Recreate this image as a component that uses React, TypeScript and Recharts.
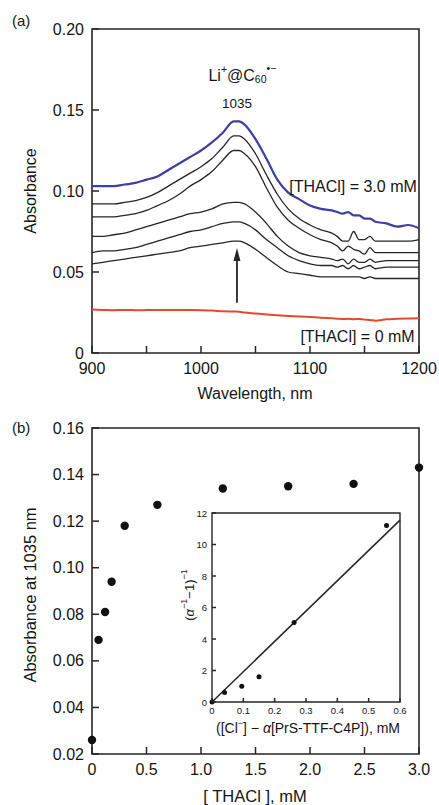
import React from 'react';
import {
  LineChart, Line, XAxis, YAxis, ScatterChart, Scatter,
  ReferenceArea, ReferenceDot, ReferenceLine,
} from 'recharts';

const FONT = '"Liberation Sans", Arial, Helvetica, sans-serif';
const INK = '#262626';
const TXT = '#151515';

// ---- (a) absorption spectra ----
const wavelengths = [
  900, 910, 920, 930, 940, 950, 960, 970, 980, 990,
  1000, 1010, 1020, 1030, 1035, 1040, 1050, 1060, 1070, 1080,
  1090, 1100, 1110, 1120, 1125, 1130, 1135, 1140, 1145, 1150,
  1155, 1160, 1170, 1180, 1190, 1200,
];
// [THACl] = 3.0 mM (blue)
const spec30 = [
  0.103, 0.103, 0.103, 0.104, 0.105, 0.107, 0.109, 0.113, 0.117, 0.121,
  0.125, 0.130, 0.136, 0.143, 0.143, 0.141, 0.132, 0.120, 0.107, 0.099,
  0.095, 0.091, 0.089, 0.088, 0.087, 0.086, 0.087, 0.085, 0.085, 0.083,
  0.083, 0.081, 0.080, 0.078, 0.079, 0.077,
];
const specB1 = [
  0.092, 0.092, 0.092, 0.093, 0.094, 0.096, 0.099, 0.103, 0.107, 0.111,
  0.115, 0.120, 0.127, 0.134, 0.134, 0.132, 0.123, 0.110, 0.098, 0.089,
  0.083, 0.079, 0.076, 0.074, 0.072, 0.069, 0.069, 0.075, 0.070, 0.070,
  0.072, 0.069, 0.069, 0.069, 0.069, 0.070,
];
const specB2 = [
  0.084, 0.084, 0.084, 0.085, 0.086, 0.088, 0.091, 0.094, 0.098, 0.103,
  0.107, 0.112, 0.119, 0.125, 0.125, 0.123, 0.115, 0.102, 0.090, 0.082,
  0.077, 0.073, 0.070, 0.068, 0.066, 0.063, 0.066, 0.064, 0.063, 0.061,
  0.065, 0.062, 0.062, 0.062, 0.062, 0.062,
];
const specB3 = [
  0.072, 0.072, 0.073, 0.074, 0.076, 0.078, 0.080, 0.082, 0.084, 0.086,
  0.087, 0.089, 0.092, 0.093, 0.093, 0.092, 0.087, 0.080, 0.072, 0.066,
  0.062, 0.060, 0.059, 0.058, 0.057, 0.058, 0.055, 0.058, 0.056, 0.056,
  0.058, 0.056, 0.057, 0.057, 0.057, 0.057,
];
const specB4 = [
  0.062, 0.063, 0.063, 0.064, 0.065, 0.067, 0.069, 0.071, 0.073, 0.075,
  0.076, 0.078, 0.080, 0.081, 0.081, 0.080, 0.076, 0.070, 0.065, 0.060,
  0.057, 0.055, 0.054, 0.054, 0.053, 0.054, 0.052, 0.054, 0.052, 0.053,
  0.054, 0.052, 0.053, 0.053, 0.053, 0.053,
];
const specB5 = [
  0.055, 0.056, 0.057, 0.058, 0.059, 0.060, 0.061, 0.062, 0.063, 0.065,
  0.066, 0.067, 0.068, 0.069, 0.069, 0.068, 0.064, 0.059, 0.054, 0.050,
  0.049, 0.048, 0.047, 0.047, 0.047, 0.047, 0.047, 0.047, 0.047, 0.046,
  0.047, 0.046, 0.046, 0.046, 0.046, 0.046,
];
// [THACl] = 0 mM (red)
const spec0 = [
  0.0268, 0.0266, 0.0264, 0.0266, 0.0264, 0.0265, 0.0266, 0.0265, 0.0266, 0.0265,
  0.0264, 0.0262, 0.0258, 0.0256, 0.0255, 0.0250, 0.0244, 0.0238, 0.0233, 0.0229,
  0.0226, 0.0222, 0.0218, 0.0214, 0.0212, 0.0210, 0.0211, 0.0209, 0.0210, 0.0206,
  0.0204, 0.0199, 0.0208, 0.0211, 0.0213, 0.0214,
];

// ---- (b) titration ----
const thaclConc = [0, 0.06, 0.12, 0.18, 0.3, 0.6, 1.2, 1.8, 2.4, 3.0];
const abs1035 = [0.026, 0.069, 0.081, 0.094, 0.118, 0.127, 0.134, 0.135, 0.136, 0.143];

// inset
const insetX = [0, 0.04, 0.095, 0.15, 0.262, 0.557];
const insetY = [0, 0.6, 1.0, 1.6, 5.05, 11.2];
const fitX = [0, 0.6];
const fitY = [0, 11.55];

const aXTicks = [900, 950, 1000, 1050, 1100, 1150, 1200];
const aYTicks = [0, 0.05, 0.1, 0.15, 0.2];
const bXTicks = [0, 0.5, 1, 1.5, 2, 2.5, 3];
const bYTicks = [0.02, 0.04, 0.06, 0.08, 0.1, 0.12, 0.14, 0.16];
const insetXTicks = [0, 0.1, 0.2, 0.3, 0.4, 0.5, 0.6];
const insetYTicks = [0, 2, 4, 6, 8, 10, 12];

const seriesA = [
  { key: 's0', values: spec0, color: '#e04a2f', width: 2 },
  { key: 'b5', values: specB5, color: INK, width: 1.3 },
  { key: 'b4', values: specB4, color: INK, width: 1.3 },
  { key: 'b3', values: specB3, color: INK, width: 1.3 },
  { key: 'b2', values: specB2, color: INK, width: 1.3 },
  { key: 'b1', values: specB1, color: INK, width: 1.3 },
  { key: 's30', values: spec30, color: '#3d40a0', width: 2.2 },
];

const rowsA = wavelengths.map((w, i) => {
  const row: Record<string, number> = { w };
  seriesA.forEach((s) => { row[s.key] = s.values[i]; });
  return row;
});
const pointsB = thaclConc.map((x, i) => ({ x, y: abs1035[i] }));
const insetPts = insetX.map((x, i) => ({ x, y: insetY[i] }));
const fitPts = fitX.map((x, i) => ({ x, y: fitY[i] }));

// inward tick mark + label, drawn from the axis position
function makeTick(side: 'bottom' | 'left', len: number, gap: number, fs: number, fmt: (v: number) => string) {
  return (props: any) => {
    const { x, y, payload } = props;
    const label = fmt(payload.value);
    if (side === 'bottom') {
      return (
        <g>
          <line x1={x} x2={x} y1={y} y2={y - len} stroke={INK} strokeWidth={1.5} />
          {label && (
            <text x={x} y={y + gap} textAnchor="middle" dominantBaseline="central"
              fontSize={fs} fontFamily={FONT} fill={TXT}>{label}</text>
          )}
        </g>
      );
    }
    return (
      <g>
        <line x1={x} x2={x + len} y1={y} y2={y} stroke={INK} strokeWidth={1.5} />
        <text x={x - gap} y={y} textAnchor="end" dominantBaseline="central"
          fontSize={fs} fontFamily={FONT} fill={TXT}>{label}</text>
      </g>
    );
  };
}

const textShape = (content: React.ReactNode, anchor: 'start' | 'middle' | 'end', fs: number) =>
  (p: any) => (
    <text x={p.cx} y={p.cy} textAnchor={anchor} dominantBaseline="central"
      fontSize={fs} fontFamily={FONT} fill={TXT}>{content}</text>
  );

const arrowHead = (p: any) => (
  <polygon points={`${p.cx},${p.cy} ${p.cx - 3.5},${p.cy + 13} ${p.cx + 3.5},${p.cy + 13}`} fill={INK} />
);

export default function App() {
  return (
    <div style={{ position: 'absolute', left: 0, top: 0, width: 439, height: 805, background: '#fff', overflow: 'hidden' }}>
      {/* (a) spectra */}
      <div style={{ position: 'absolute', left: 0, top: 0 }}>
        <LineChart width={439} height={400} data={rowsA} margin={{ top: 29, right: 20, bottom: 17, left: 0 }}>
          <XAxis dataKey="w" type="number" domain={[900, 1200]} ticks={aXTicks} interval={0}
            height={30} axisLine={false} tickLine={false} tickSize={0} tickMargin={0}
            tick={makeTick('bottom', 7, 15, 16, (v) => (v % 100 === 0 ? String(v) : ''))} />
          <YAxis type="number" domain={[0, 0.2]} ticks={aYTicks} interval={0} width={92}
            axisLine={false} tickLine={false} tickSize={0} tickMargin={0}
            tick={makeTick('left', 7, 8, 16, (v) => (v === 0 ? '0' : v.toFixed(2)))} />
          <ReferenceArea x1={900} x2={1200} y1={0} y2={0.2} fill="none" stroke={INK} strokeWidth={1.6} />
          {seriesA.map((s) => (
            <Line key={s.key} dataKey={s.key} type="monotone" stroke={s.color} strokeWidth={s.width}
              dot={false} isAnimationActive={false} />
          ))}
          <ReferenceLine segment={[{ x: 1033, y: 0.031 }, { x: 1033, y: 0.057 }]} stroke={INK} strokeWidth={1.8} />
          <ReferenceDot x={1033} y={0.0648} r={0} shape={arrowHead} />
          <ReferenceDot x={1038} y={0.1716} r={0} shape={textShape(
            <>
              <tspan>Li</tspan>
              <tspan fontSize={10.5} dy={-6}>+</tspan>
              <tspan dy={6}>@C</tspan>
              <tspan fontSize={10.5} dy={4}>60</tspan>
              <tspan fontSize={10.5} dy={-11}>•−</tspan>
            </>, 'middle', 16)} />
          <ReferenceDot x={1033} y={0.154} r={0} shape={textShape('1035', 'middle', 13.5)} />
          <ReferenceDot x={1198} y={0.103} r={0} shape={textShape('[THACl] = 3.0 mM', 'end', 16)} />
          <ReferenceDot x={1196} y={0.0099} r={0} shape={textShape('[THACl] = 0 mM', 'end', 16)} />
        </LineChart>
      </div>

      {/* (b) absorbance vs [THACl] */}
      <div style={{ position: 'absolute', left: 0, top: 400 }}>
        <ScatterChart width={439} height={405} margin={{ top: 28, right: 20, bottom: 21, left: 0 }}>
          <XAxis dataKey="x" type="number" domain={[0, 3]} ticks={bXTicks} interval={0}
            height={30} axisLine={false} tickLine={false} tickSize={0} tickMargin={0}
            tick={makeTick('bottom', 7, 15, 16, (v) => (v === 0 ? '0' : v.toFixed(1)))} />
          <YAxis dataKey="y" type="number" domain={[0.02, 0.16]} ticks={bYTicks} interval={0} width={92}
            axisLine={false} tickLine={false} tickSize={0} tickMargin={0}
            tick={makeTick('left', 7, 8, 16, (v) => v.toFixed(2))} />
          <ReferenceArea x1={0} x2={3} y1={0.02} y2={0.16} fill="none" stroke={INK} strokeWidth={1.6} />
          <Scatter data={pointsB} isAnimationActive={false}
            shape={(p: any) => <circle cx={p.cx} cy={p.cy} r={4.2} fill="#111" />} />
        </ScatterChart>
      </div>

      {/* inset */}
      <div style={{ position: 'absolute', left: 160, top: 500 }}>
        <ScatterChart width={250} height={240} margin={{ top: 13, right: 10, bottom: 24, left: 0 }}>
          <XAxis dataKey="x" type="number" domain={[0, 0.6]} ticks={insetXTicks} interval={0}
            height={14} axisLine={false} tickLine={false} tickSize={0} tickMargin={0}
            tick={makeTick('bottom', 4, 8, 9.5, (v) => (v === 0 ? '0' : v.toFixed(1)))} />
          <YAxis dataKey="y" type="number" domain={[0, 12]} ticks={insetYTicks} interval={0} width={52}
            axisLine={false} tickLine={false} tickSize={0} tickMargin={0}
            tick={makeTick('left', 4, 5, 9.5, (v) => String(v))} />
          <ReferenceArea x1={0} x2={0.6} y1={0} y2={12} fill="#fff" stroke={INK} strokeWidth={1.4} />
          <Scatter data={fitPts} isAnimationActive={false} line={{ stroke: INK, strokeWidth: 1.5 }}
            shape={() => <g />} />
          <Scatter data={insetPts} isAnimationActive={false}
            shape={(p: any) => <circle cx={p.cx} cy={p.cy} r={2.5} fill="#111" />} />
        </ScatterChart>
      </div>

      {/* titles */}
      <svg width={439} height={805} style={{ position: 'absolute', left: 0, top: 0, pointerEvents: 'none' }}
        fontFamily={FONT} fill={TXT}>
        <text x={12} y={20} fontSize={15} dominantBaseline="central">(a)</text>
        <text x={12} y={427} fontSize={15} dominantBaseline="central">(b)</text>
        <text transform="translate(30,191) rotate(-90)" fontSize={16} textAnchor="middle" dominantBaseline="central">Absorbance</text>
        <text x={255} y={393} fontSize={16} textAnchor="middle" dominantBaseline="central">Wavelength, nm</text>
        <text transform="translate(30,595) rotate(-90)" fontSize={16.5} textAnchor="middle" dominantBaseline="central">Absorbance at 1035 nm</text>
        <text x={255} y={796} fontSize={16.5} textAnchor="middle" dominantBaseline="central">[ THACl ], mM</text>
        <text x={308} y={728} fontSize={14} textAnchor="middle" dominantBaseline="central">
          <tspan>([Cl</tspan>
          <tspan fontSize={9} dy={-5}>−</tspan>
          <tspan dy={5}>] − </tspan>
          <tspan fontStyle="italic">α</tspan>
          <tspan>[PrS-TTF-C4P]), mM</tspan>
        </text>
        <text transform="translate(189,595) rotate(-90)" fontSize={13} textAnchor="middle" dominantBaseline="central">
          <tspan>(</tspan>
          <tspan fontStyle="italic">α</tspan>
          <tspan fontSize={9} dy={-5}>−1</tspan>
          <tspan dy={5}>−1)</tspan>
          <tspan fontSize={9} dy={-5}>−1</tspan>
        </text>
      </svg>
    </div>
  );
}
